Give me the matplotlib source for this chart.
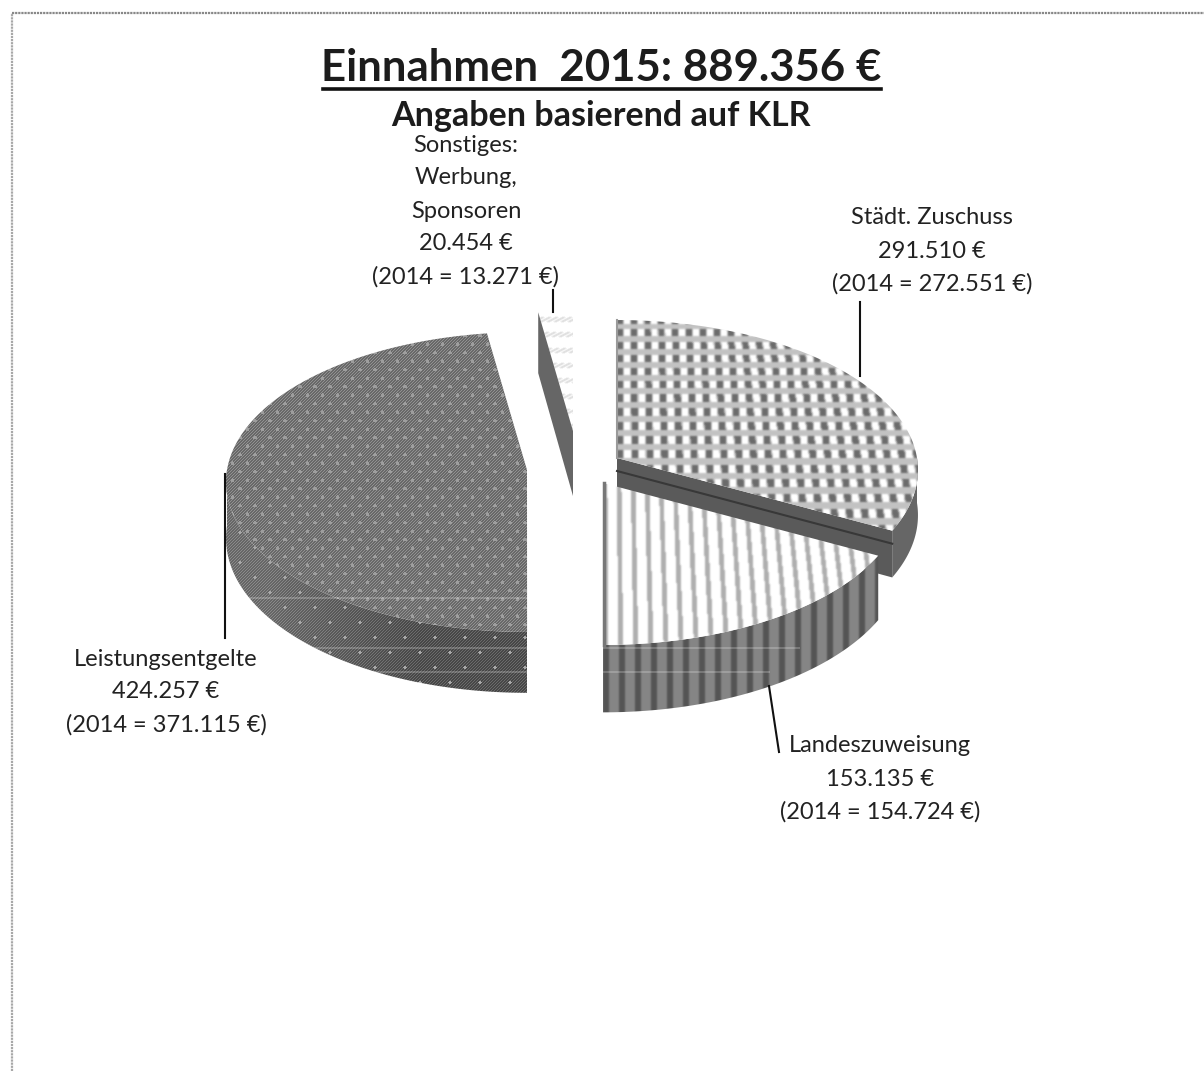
import numpy as np
import matplotlib
matplotlib.use('Agg')
import matplotlib.pyplot as plt
from matplotlib.patches import Polygon

W, H = 1204, 1071

# Einnahmen in Euro, im Uhrzeigersinn ab 12 Uhr
names = ['Städt. Zuschuss', 'Landeszuweisung', 'Leistungsentgelte', 'Sonstiges']
label_heads = [['Städt. Zuschuss'], ['Landeszuweisung'], ['Leistungsentgelte'],
               ['Sonstiges:', 'Werbung,', 'Sponsoren']]
values_2015 = [291510, 153135, 424257, 20454]
values_2014 = [272551, 154724, 371115, 13271]

# pie geometry in pixels
RX, RY, K = 300.0, 149.0, 0.08
centers = [(617, 458), (603, 483), (527, 470), (573, 431)]
radius = [1.0, 1.0, 1.0, 0.86]
depth = [45, 62, 56, 65]
label_pos = [(932, 218), (880, 746), (166, 659), (466, 145)]
leaders = [((860, 302), (860, 376)), ((769, 686), (779, 752)),
           ((225, 474), (225, 638)), ((553, 290), (553, 312))]


def euro(v):
    return f'{v:,}'.replace(',', '.') + ' €'


def project(t, i, drop=0.0):
    # clockwise angle from the back of the pie to screen pixels, with perspective
    cx, cy = centers[i]
    r = radius[i]
    gx, gy = r * np.sin(t), r * np.cos(t)
    s = 1 / (1 + K * gy)
    return cx + RX * gx * s, cy - RY * gy * s + drop * s


def ground(xx, yy, i):
    # inverse of project(), used so the fill patterns follow the perspective
    cx, cy = centers[i]
    dy = cy - yy
    gy = dy / (RY - K * dy)
    gx = (xx - cx) * (1 + K * gy) / RX
    return gx, gy


def wedge_top(t0, t1, i):
    ts = np.linspace(t0, t1, 120)
    x, y = project(ts, i)
    return np.r_[centers[i][0], x], np.r_[centers[i][1], y]


def wall(t0, t1, i):
    ts = np.linspace(t0, t1, 120)
    x, y = project(ts, i)
    xb, yb = project(ts, i, depth[i])
    return np.r_[x, xb[::-1]], np.r_[y, yb[::-1]]


def soften(tex, passes=2):
    # small box blur, the pattern fills are not crisp
    for _ in range(passes):
        tex = (tex + np.roll(tex, 1, 0) + np.roll(tex, -1, 0)
               + np.roll(tex, 1, 1) + np.roll(tex, -1, 1)) / 5
    return tex


def fill_texture(ax, tex, x, y, zorder):
    im = ax.imshow(tex, cmap='gray', vmin=0, vmax=1, extent=(0, W, H, 0),
                   interpolation='bilinear', zorder=zorder, aspect='auto')
    clip = Polygon(np.c_[x, y], closed=True, transform=ax.transData)
    im.set_clip_path(clip)


def checks(xx, yy, i):
    gx, gy = ground(xx, yy, i)
    rows = (gy / 0.097) % 1
    cols = (gx / 0.0495) % 1
    tex = np.full(xx.shape, 0.76)
    in_row = rows < 0.55
    tex[in_row & (cols < 0.42)] = 0.42
    tex[in_row & (cols >= 0.5) & (cols < 0.92)] = 1.0
    return soften(tex)


def stripes(xx, yy, i):
    gx, _ = ground(xx, yy, i)
    u = (gx / 0.0465) % 1
    return soften(np.where(u < 0.32, 0.68, 1.0))


def dots(xx, yy, i):
    # fine dither with a staggered lattice of pale dots
    row = np.floor(yy / 8.5)
    px = (xx + 7.5 * (row % 2)) % 15 - 7.5
    py = yy % 8.5 - 4.25
    tex = 0.49 + 0.08 * (((xx + yy) % 3 < 1) * 2 - 1)
    tex[px ** 2 + py ** 2 < 3.2] = 0.62
    return tex


def dark_dots_wall(xx, yy, i):
    # side of the big wedge gets darker towards the cut
    base = 0.47 - 0.12 * np.clip((xx - 270) / 150, 0, 1)
    tex = base + 0.07 * (((xx + yy) % 3 < 1) * 2 - 1)
    row = np.floor(yy / 15)
    px = (xx + 15 * (row % 2)) % 30 - 15
    py = yy % 15 - 7.5
    tex[px ** 2 + py ** 2 < 3] = 0.66
    return tex


def rib_wall(xx, yy, i):
    u = ((xx - centers[i][0]) / 16) % 1
    return soften(np.where(u < 0.4, 0.33, 0.52))


def spark_rows(xx, yy, i):
    # very pale zigzag rows on the small wedge
    rows = (yy - 317) % 15.3
    zig = (xx + 2 * yy) % 7 < 3
    tex = np.ones(xx.shape)
    tex[(rows < 5) & zig] = 0.8
    return soften(tex, 1)


plt.rcParams['font.family'] = ['Lato', 'DejaVu Sans']

fig = plt.figure(figsize=(W / 100, H / 100), dpi=100, facecolor='white')
ax = fig.add_axes([0, 0, 1, 1])
ax.set_xlim(0, W)
ax.set_ylim(H, 0)
ax.axis('off')

xx, yy = np.meshgrid(np.arange(W) + 0.5, np.arange(H) + 0.5)

total = sum(values_2015)
edges = np.r_[0, np.cumsum(values_2015)] / total * 2 * np.pi
t0s, t1s = edges[:-1], edges[1:]

# page frame
ax.plot([12, 12], [H, 13], color='#a8a8a8', lw=1.6, ls=(0, (1, 0.4)), zorder=1)
ax.plot([12, W], [13, 13], color='#888888', lw=1.6, ls=(0, (1, 0.4)), zorder=1)

# Leistungsentgelte
i = 2
x, y = wall(np.pi, 1.5 * np.pi, i)
fill_texture(ax, dark_dots_wall(xx, yy, i), x, y, 2)
x, y = wedge_top(t0s[i], t1s[i], i)
fill_texture(ax, dots(xx, yy, i), x, y, 3)

# Sonstiges
i = 3
x, y = wedge_top(t0s[i], t1s[i], i)
fill_texture(ax, spark_rows(xx, yy, i), x, y, 2)
ex, ey = project(t0s[i], i)
ebx, eby = project(t0s[i], i, depth[i])
cx, cy = centers[i]
ax.add_patch(Polygon([(ex, ey), (cx, cy), (cx, cy + depth[i]), (ebx, eby)],
                     closed=True, fc='#666666', ec='none', zorder=3))

# Städt. Zuschuss: rim, cut face, then the top
i = 0
x, y = wall(np.pi / 2, t1s[i], i)
ax.fill(x, y, color='#666666', lw=0, zorder=2)
cx, cy = centers[i]
ex, ey = project(t1s[i], i)
ebx, eby = project(t1s[i], i, depth[i])
ax.add_patch(Polygon([(cx, cy), (ex, ey), (ebx, eby), (cx, cy + depth[i])],
                     closed=True, fc='#5a5a5a', ec='none', zorder=2))
ax.plot([cx, ex], [cy + 13, ey + 13], color='#383838', lw=1.5, zorder=2.5)
x, y = wedge_top(t0s[i], t1s[i], i)
fill_texture(ax, checks(xx, yy, i), x, y, 3)
ax.plot([cx, cx], [project(0.0, i)[1], cy], color='#9a9a9a', lw=1.5, zorder=3.5)

# Landeszuweisung, sits in front of the others
i = 1
x, y = wall(t0s[i], np.pi, i)
fill_texture(ax, rib_wall(xx, yy, i), x, y, 4)
x, y = wedge_top(t0s[i], t1s[i], i)
fill_texture(ax, stripes(xx, yy, i), x, y, 5)
cx, cy = centers[i]
ax.plot([cx + 1, cx + 1], [cy, project(np.pi, i)[1]], color='#777777', lw=2.5, zorder=5.5)

# pale scan streaks across the lower part of the pie
ax.hlines([598, 648, 672], 230, [528, 800, 770], color='white', lw=1.2, alpha=0.25, zorder=6)

# leader lines
for (x0, y0), (x1, y1) in leaders:
    ax.plot([x0, x1], [y0, y1], color='#111111', lw=1.5, zorder=7)

# title, underlined by hand
ax.text(601, 68, f'Einnahmen  2015: {euro(total)}', ha='center', va='center',
        fontsize=31.5, fontweight='bold', color='#1c1c1c')
ax.plot([323, 881], [88.5, 88.5], color='#111111', lw=2.6, zorder=7)
ax.text(601, 116, 'Angaben basierend auf KLR', ha='center', va='center',
        fontsize=24.5, fontweight='bold', color='#1c1c1c')

# labels, one text per line because of the wide line spacing
for k in range(len(names)):
    lines = label_heads[k] + [euro(values_2015[k]), f'(2014 = {euro(values_2014[k])})']
    lx, ly = label_pos[k]
    for n, line in enumerate(lines):
        ax.text(lx, ly + n * 33, line, ha='center', va='center', fontsize=17, color='#222222')

fig.savefig('out.png', dpi=100, facecolor='white')
